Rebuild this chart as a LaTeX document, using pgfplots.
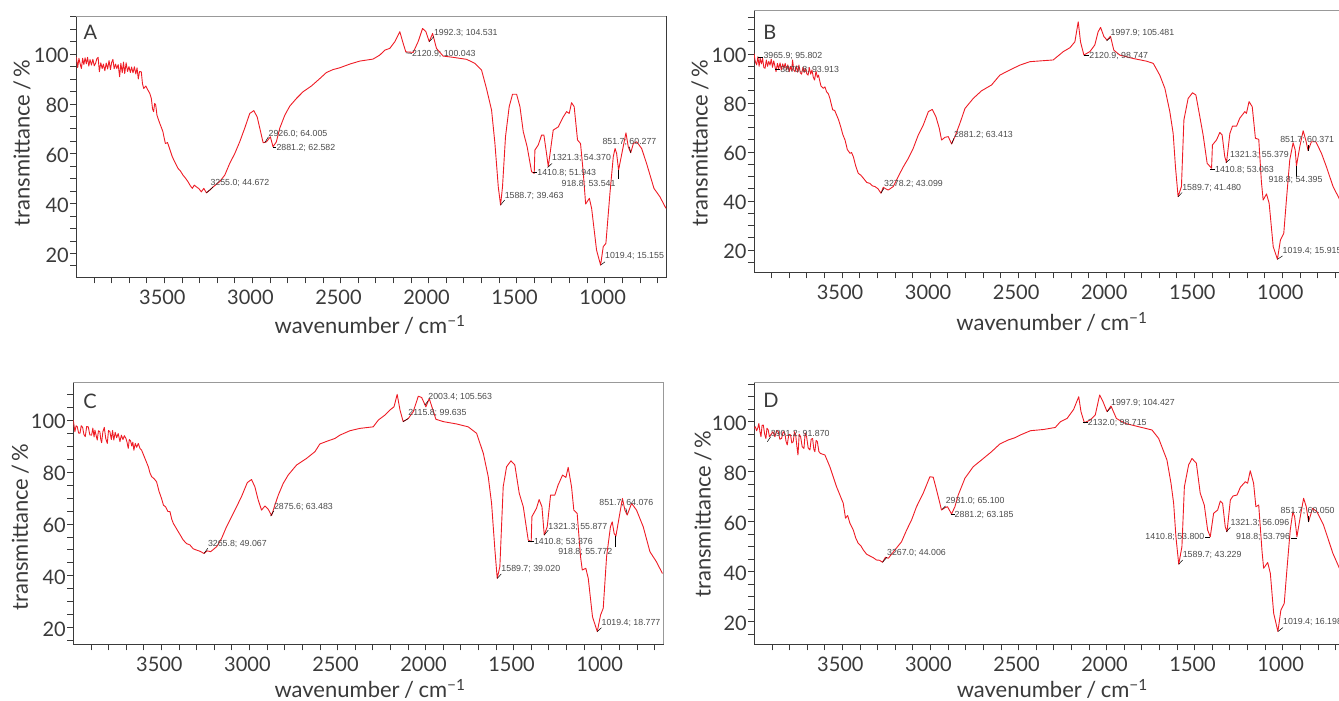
\documentclass[border=0pt]{standalone}
\usepackage{fontspec}
\setmainfont{Lato}
\newfontfamily\annofont{Liberation Sans}
\usepackage{pgfplots}
\usepackage{pgfplotstable}
\pgfplotsset{compat=1.18}
\definecolor{speccol}{HTML}{EE1C25}
\definecolor{framecol}{HTML}{3A3A3A}
\definecolor{txtcol}{HTML}{3A3A3A}
\definecolor{annocol}{HTML}{4A4A4A}

\pgfplotstableread{
x y
4000 98.9
3992 94.6
3985 98.3
3978 96.0
3971 94.2
3964 98.3
3957 95.8
3950 98.5
3943 96.1
3936 98.7
3929 95.2
3922 97.8
3914 95.6
3906 97.9
3898 95.3
3890 96.4
3883 98.2
3876 98.7
3869 92.9
3861 96.5
3853 94.2
3846 96.0
3838 93.3
3830 96.4
3822 94.0
3814 97.4
3806 93.8
3799 96.7
3792 97.9
3785 94.1
3777 96.0
3770 94.2
3762 95.8
3754 90.9
3747 96.3
3739 92.5
3732 96.8
3725 92.2
3717 96.5
3709 93.0
3701 95.0
3693 92.6
3686 94.8
3678 92.5
3670 94.9
3662 92.0
3655 94.5
3648 90.0
3641 93.0
3631 92.9
3624 88.0
3617 86.2
3605 87.2
3593 85.5
3583 84.3
3574 82.2
3567 78.0
3561 76.9
3555 80.2
3549 79.6
3542 75.5
3536 74.2
3525 72.0
3515 70.2
3508 68.8
3500 66.0
3494 64.1
3482 64.5
3470 62.0
3455 58.8
3438 56.3
3422 54.1
3408 53.0
3394 51.4
3380 50.2
3366 48.8
3353 47.2
3341 46.1
3330 47.4
3318 46.7
3304 46.0
3290 44.7
3276 46.1
3261 44.3
3242 45.4
3223 46.7
3186 48.8
3157 51.4
3129 56.1
3100 60.1
3072 64.8
3044 70.2
3015 76.2
2992 77.3
2973 74.8
2958 70.2
2939 64.4
2920 64.8
2898 66.8
2883 62.8
2864 64.8
2845 70.2
2816 75.5
2788 79.1
2750 82.2
2712 84.9
2665 87.2
2617 90.2
2580 92.6
2542 93.8
2504 94.5
2447 96.0
2390 97.2
2315 98.0
2277 99.6
2248 101.6
2220 102.3
2191 105.0
2163 109.0
2144 104.3
2129 100.9
2087 100.7
2059 105.0
2034 110.3
2015 109.0
1996 105.0
1977 108.3
1955 102.3
1917 99.2
1860 98.7
1784 97.9
1737 96.3
1699 93.6
1671 86.2
1642 77.5
1623 64.1
1604 46.7
1591 39.4
1580 46.7
1563 66.8
1542 78.9
1523 83.9
1500 83.9
1481 78.9
1462 68.8
1440 62.8
1415 52.8
1400 52.1
1396 61.5
1377 63.5
1358 67.5
1345 67.5
1330 60.1
1320 54.8
1301 64.8
1292 69.5
1263 70.8
1235 74.8
1216 76.9
1201 76.2
1188 80.5
1173 78.9
1154 65.5
1137 64.1
1121 52.1
1108 39.8
1087 42.1
1074 38.1
1046 21.3
1023 15.3
1008 22.7
993 24.0
970 44.1
951 58.8
941 62.1
932 60.1
921 53.4
904 59.5
879 68.4
866 62.8
852 60.4
837 64.1
818 64.8
790 62.1
762 56.1
720 46.1
686 42.7
652 38.1
}\dataA

\pgfplotstableread{
x y
4000 100.3
3993 97.0
3985 95.6
3978 98.9
3971 95.0
3965 98.4
3958 96.0
3951 98.2
3944 94.5
3937 94.2
3930 97.6
3923 95.0
3916 97.0
3909 95.5
3902 97.9
3895 94.6
3888 97.2
3881 95.0
3875 92.8
3867 96.2
3860 94.0
3852 96.4
3845 93.5
3837 96.0
3830 94.2
3823 96.2
3815 93.5
3808 95.6
3800 92.8
3793 95.0
3786 93.2
3781 97.6
3774 93.4
3767 92.8
3760 95.2
3752 92.6
3745 95.5
3737 92.4
3730 91.8
3722 94.6
3715 92.5
3708 94.2
3700 91.9
3693 91.4
3686 94.5
3678 91.8
3671 93.5
3663 90.5
3656 89.4
3648 93.0
3640 90.5
3634 91.4
3620 87.0
3606 86.0
3597 86.6
3588 84.6
3578 83.8
3569 81.9
3561 79.5
3553 77.2
3542 77.0
3531 75.1
3520 73.2
3508 70.4
3495 67.0
3483 64.9
3470 61.0
3455 59.5
3446 59.8
3436 58.1
3422 54.2
3408 51.3
3394 50.6
3379 49.3
3360 47.6
3342 47.2
3328 46.2
3313 45.9
3296 45.0
3279 43.2
3266 45.6
3252 45.0
3238 44.5
3209 45.9
3181 50.0
3152 54.0
3124 57.4
3096 61.5
3067 67.0
3039 71.0
3010 76.5
2988 77.4
2967 74.4
2948 69.7
2935 64.9
2916 66.0
2897 66.3
2878 63.3
2859 66.3
2831 71.7
2802 77.8
2755 81.9
2708 85.0
2651 87.4
2604 91.4
2556 93.2
2490 95.5
2433 96.9
2358 97.3
2301 97.6
2244 101.0
2206 102.6
2178 105.0
2159 113.2
2146 105.0
2127 99.6
2093 101.0
2065 103.7
2046 109.1
2032 110.9
2013 107.1
1995 105.7
1976 107.3
1957 101.6
1923 99.6
1847 98.2
1771 97.1
1733 96.2
1696 91.4
1667 86.0
1639 76.5
1620 67.6
1607 54.0
1592 41.8
1573 45.9
1559 73.1
1535 81.9
1510 84.2
1491 83.3
1472 75.8
1450 67.0
1427 55.4
1402 53.4
1397 62.9
1374 64.9
1355 68.0
1342 67.0
1327 58.1
1317 55.7
1298 67.6
1283 70.6
1260 70.6
1242 73.8
1213 76.5
1204 75.8
1189 80.6
1171 78.5
1153 65.6
1134 65.2
1119 47.9
1109 40.4
1090 42.9
1075 39.1
1052 21.4
1028 16.2
1011 24.1
992 26.8
977 40.4
958 56.8
939 63.8
927 60.8
920 54.3
901 62.2
882 68.7
867 64.9
854 60.6
835 64.2
810 64.2
778 59.5
750 54.0
712 45.9
680 41.4
650 36.5
}\dataB

\pgfplotstableread{
x y
4000 100.0
3995 97.5
3991 95.5
3984 97.8
3977 97.4
3970 95.0
3962 94.9
3955 97.8
3947 97.2
3940 94.5
3932 93.6
3924 97.5
3915 97.4
3906 94.3
3896 94.2
3889 96.9
3882 93.5
3877 96.1
3870 94.0
3864 92.3
3857 95.9
3849 95.5
3844 92.5
3839 91.3
3832 95.5
3824 97.2
3816 93.0
3807 91.0
3800 96.0
3792 95.5
3784 92.5
3777 96.0
3770 92.3
3762 95.3
3754 93.2
3745 94.8
3735 91.7
3727 94.2
3718 92.5
3710 94.0
3701 92.9
3695 91.5
3688 89.1
3682 92.5
3675 92.0
3668 90.0
3662 91.5
3656 88.4
3648 91.0
3640 89.5
3631 91.0
3621 89.0
3612 88.4
3593 85.2
3574 82.0
3564 79.5
3555 78.2
3541 77.4
3527 76.2
3513 72.5
3499 69.8
3488 67.2
3476 66.6
3463 64.8
3451 64.7
3441 61.8
3432 60.2
3404 57.0
3376 53.8
3357 52.4
3338 51.9
3319 50.4
3300 49.9
3279 49.4
3258 48.6
3240 49.6
3220 49.3
3186 51.2
3158 54.4
3130 58.9
3101 62.8
3073 66.6
3045 70.5
3012 75.9
2988 77.1
2969 74.3
2950 69.2
2931 65.3
2912 66.9
2893 65.6
2874 63.2
2855 67.3
2836 71.1
2808 75.6
2780 78.8
2732 82.7
2676 85.2
2628 87.8
2600 90.8
2553 92.0
2515 92.9
2486 94.2
2429 95.9
2372 96.8
2297 97.4
2268 100.0
2231 101.9
2202 103.9
2179 105.1
2161 109.9
2145 103.9
2127 99.4
2098 100.6
2070 103.2
2041 109.2
2022 108.7
1998 105.1
1979 108.3
1941 100.3
1899 99.4
1824 98.5
1758 97.4
1710 94.9
1672 87.2
1644 78.2
1625 67.9
1606 49.9
1593 39.0
1578 43.5
1559 74.3
1540 82.0
1515 84.3
1493 82.7
1468 71.8
1445 66.6
1417 53.8
1400 53.1
1396 62.8
1370 66.0
1355 69.4
1339 66.6
1326 55.7
1309 58.9
1290 71.1
1266 71.1
1247 75.0
1222 78.8
1203 77.9
1190 81.8
1171 74.3
1158 65.3
1139 64.0
1120 47.4
1110 42.2
1090 42.9
1076 39.0
1052 24.2
1025 18.5
1006 24.9
991 27.5
972 47.4
950 58.9
940 60.8
929 56.3
919 55.3
900 62.8
882 69.8
868 65.3
855 63.4
830 67.9
802 65.3
764 58.9
726 49.3
689 45.4
655 40.9
}\dataC

\pgfplotstableread{
x y
4000 97.3
3994 98.0
3987 96.4
3980 97.5
3974 99.3
3968 96.0
3962 94.0
3956 98.5
3949 98.7
3941 95.0
3934 93.3
3928 97.4
3921 96.7
3914 94.0
3907 94.7
3895 96.0
3883 94.0
3873 96.5
3864 96.0
3855 93.0
3845 93.3
3836 96.0
3826 95.3
3820 92.2
3813 90.7
3804 95.0
3794 94.7
3787 91.5
3779 92.0
3772 96.0
3765 94.7
3758 90.0
3752 86.7
3745 95.0
3737 94.0
3728 90.0
3718 89.3
3711 95.5
3703 94.0
3694 89.5
3684 88.7
3677 93.0
3669 93.3
3662 89.0
3656 88.0
3649 92.5
3642 92.0
3633 88.0
3624 87.3
3599 86.7
3571 82.0
3552 78.0
3533 74.0
3495 67.4
3482 61.4
3470 62.5
3457 59.4
3438 56.7
3424 53.5
3410 51.4
3395 50.4
3381 48.7
3362 47.0
3343 46.3
3324 45.6
3306 44.7
3289 44.6
3272 43.8
3255 45.8
3239 45.4
3202 48.7
3164 52.0
3135 56.7
3107 60.7
3079 66.0
3041 71.4
3003 78.0
2984 77.8
2965 72.7
2937 64.7
2918 65.6
2903 66.0
2880 63.1
2861 66.0
2842 70.7
2804 77.4
2757 82.0
2710 84.7
2653 88.0
2606 91.1
2558 92.7
2520 93.6
2489 94.7
2432 96.4
2357 96.9
2291 97.7
2262 100.0
2224 101.3
2187 104.9
2158 110.0
2145 104.0
2126 99.6
2092 100.7
2064 102.7
2039 110.7
2020 108.0
1997 104.0
1975 106.3
1944 101.3
1893 99.3
1818 98.0
1742 96.7
1704 93.3
1657 84.7
1634 75.4
1619 67.4
1606 54.0
1590 43.0
1572 50.0
1558 74.0
1534 82.7
1515 85.3
1490 83.4
1468 71.4
1445 66.7
1426 56.7
1411 54.0
1392 63.4
1369 64.7
1354 68.3
1341 67.4
1326 58.0
1316 56.0
1297 68.7
1282 70.3
1259 70.7
1240 73.8
1212 76.0
1199 75.4
1184 80.4
1165 75.4
1152 66.0
1136 66.7
1117 48.1
1108 41.4
1085 43.7
1070 39.4
1051 23.4
1027 16.1
1010 24.7
991 27.4
976 40.7
957 56.7
942 64.0
932 62.0
919 54.0
900 62.0
881 69.4
866 66.0
853 60.0
830 65.4
805 64.0
768 58.7
715 47.4
682 42.1
650 37.0
}\dataD

\newcommand\labfont{\fontsize{22}{22}\selectfont}
\pgfplotsset{
  spec/.style={
    scale only axis, width=590pt,
    x dir=reverse, xmin=650, xmax=4000,
    xtick={1000,1500,2000,2500,3000,3500},
    minor xtick={700,800,...,3900},
    ytick={20,40,60,80,100},
    minor ytick={15,20,...,115},
    tick pos=left,
    tick align=outside,
    major tick length=6pt, minor tick length=6pt,
    every tick/.append style={framecol,line width=0.7pt},
    every minor tick/.append style={framecol,line width=0.7pt},
    axis line style={framecol,line width=0.9pt},
    clip mode=individual,
    /pgf/number format/1000 sep={},
    /pgf/number format/assume math mode=true,
    tick label style={font=\fontsize{20}{20}\selectfont,text=txtcol},
    xticklabel style={xshift=-2pt,yshift=-3pt},
    yticklabel style={yshift=-1.5pt,xshift=2pt},
    xlabel={wavenumber\hspace{4.5pt}/\hspace{4.5pt}cm\textsuperscript{−1}},
    ylabel={transmittance\,/\,\%},
  },
  trace/.style={speccol,line width=0.9pt,line join=round,no markers},
}
\newcommand\anno[7]{%
  \draw[black,line width=0.5pt] (axis cs:#1,#2) -- (axis cs:#3,#4);
  \node[anchor=west,inner sep=0pt,text=annocol,font=\annofont\fontsize{8.8}{9}\selectfont] at (axis cs:#5,#6) {#7};
}
\newcommand\topline{\draw[gray!80,line width=0.9pt] (rel axis cs:0,1) -- (rel axis cs:1,1);}

\begin{document}
\begin{tikzpicture}[x=1pt,y=1pt]
\path[use as bounding box,clip] (0,0) rectangle (1339,701);

% A
\begin{axis}[spec, at={(76.3pt,423.7pt)}, anchor=south west, height=261.3pt,
  ymin=10.4, ymax=115.3,
  every axis x label/.style={at={(axis description cs:0.498,-0.1825)},anchor=center,font=\labfont,text=txtcol},
  every axis y label/.style={at={(axis description cs:-0.092,0.514)},anchor=center,rotate=90,font=\labfont,text=txtcol}]
\addplot[trace] table {\dataA};
\node[font=\fontsize{20}{20}\selectfont,text=txtcol] at (axis cs:3920,108.6) {A};
\anno{3261}{44.3}{3223}{46.7}{3239}{48.2}{3255.0; 44.672}
\anno{2930}{64.4}{2909}{66.8}{2909}{67.9}{2926.0; 64.005}
\anno{2883}{62.8}{2864}{62.8}{2864}{62.5}{2881.2; 62.582}
\anno{1996}{105}{1970}{107}{1970}{108.4}{1992.3; 104.531}
\anno{2129}{100.5}{2095}{100.3}{2095}{100}{2120.9; 100.043}
\anno{1591}{39.4}{1568}{41.4}{1568}{43.1}{1588.7; 39.463}
\anno{1409}{52.4}{1383}{52.4}{1383}{52.1}{1410.8; 51.943}
\anno{1324}{54.5}{1299}{56.1}{1299}{58.1}{1321.3; 54.370}
\anno{922}{53.4}{922}{49.7}{1245}{48.0}{918.8; 53.541}
\anno{852}{60.4}{860}{62.8}{1013}{64.8}{851.7; 60.277}
\anno{1023}{15.3}{998}{16.6}{998}{18.9}{1019.4; 15.155}
\topline
\end{axis}

% B
\begin{axis}[spec, at={(754pt,428.7pt)}, anchor=south west, height=262.3pt,
  ymin=10.9, ymax=118,
  every axis x label/.style={at={(axis description cs:0.505,-0.189)},anchor=center,font=\labfont,text=txtcol},
  every axis y label/.style={at={(axis description cs:-0.0915,0.493)},anchor=center,rotate=90,font=\labfont,text=txtcol}]
\addplot[trace] table {\dataB};
\node[font=\fontsize{20}{20}\selectfont,text=txtcol] at (axis cs:3910,109) {B};
\anno{3975}{98.9}{3947}{98.9}{3947}{99.3}{3965.9; 95.802}
\anno{3881}{93.7}{3852}{93.7}{3852}{93.7}{3870.8; 93.913}
\anno{3279}{43.2}{3262}{45.2}{3262}{46.8}{3278.2; 43.099}
\anno{2878}{63.3}{2865}{65.6}{2865}{67}{2881.2; 63.413}
\anno{1998}{105.4}{1976}{106.8}{1976}{108.8}{1997.9; 105.481}
\anno{2127}{99.6}{2097}{99.6}{2097}{99.3}{2120.9; 98.747}
\anno{1592}{41.8}{1569}{43.5}{1569}{45.2}{1589.7; 41.480}
\anno{1412}{53.1}{1383}{53.1}{1383}{52.8}{1410.8; 53.063}
\anno{1321}{55.7}{1298}{57}{1298}{58.9}{1321.3; 55.379}
\anno{920}{54.3}{920}{50}{1079}{48.6}{918.8; 54.395}
\anno{854}{60.6}{854}{62.9}{1013}{64.8}{851.7; 60.371}
\anno{1028}{16.2}{999}{17.6}{999}{19.8}{1019.4; 15.915}
\topline
\end{axis}

% C
\begin{axis}[spec, at={(73.3pt,56.7pt)}, anchor=south west, height=261.6pt,
  ymin=13.6, ymax=114.4,
  every axis x label/.style={at={(axis description cs:0.503,-0.171)},anchor=center,font=\labfont,text=txtcol},
  every axis y label/.style={at={(axis description cs:-0.09,0.448)},anchor=center,rotate=90,font=\labfont,text=txtcol}]
\addplot[trace] table {\dataC};
\node[font=\fontsize{20}{20}\selectfont,text=txtcol] at (axis cs:3905,107.4) {C};
\anno{3258}{48.6}{3236}{50.6}{3236}{52.2}{3265.8; 49.067}
\anno{2880}{63}{2861}{65}{2861}{66.6}{2875.6; 63.483}
\anno{2004}{105.8}{1985}{107.4}{1985}{108.9}{2003.4; 105.563}
\anno{2127}{99.4}{2098}{100.6}{2098}{102.8}{2115.8; 99.635}
\anno{1593}{39}{1570}{40.7}{1570}{42.6}{1589.7; 39.020}
\anno{1417}{53.4}{1385}{53.4}{1385}{53.2}{1410.8; 53.376}
\anno{1326}{55.7}{1303}{57.6}{1303}{58.9}{1321.3; 55.877}
\anno{925}{55.3}{925}{51.2}{1247}{49.2}{918.8; 55.772}
\anno{855}{64}{863}{66}{1014}{68.2}{851.7; 64.076}
\anno{1025}{18.5}{1001}{20}{1001}{21.9}{1019.4; 18.777}
\draw[gray!80,line width=0.9pt] (rel axis cs:1,0) -- (rel axis cs:1,1) -- (rel axis cs:0,1);
\end{axis}

% D
\begin{axis}[spec, at={(754.3pt,56.7pt)}, anchor=south west, height=261.6pt,
  ymin=11, ymax=115.6,
  every axis x label/.style={at={(axis description cs:0.505,-0.1705)},anchor=center,font=\labfont,text=txtcol},
  every axis y label/.style={at={(axis description cs:-0.087,0.498)},anchor=center,rotate=90,font=\labfont,text=txtcol}]
\addplot[trace] table {\dataD};
\node[font=\fontsize{20}{20}\selectfont,text=txtcol] at (axis cs:3905,108.6) {D};
\anno{3926}{92}{3907}{94}{3907}{95}{3901.2; 91.870}
\anno{3272}{43.8}{3247}{45.8}{3247}{47.7}{3267.0; 44.006}
\anno{2933}{65}{2914}{66.3}{2914}{68.4}{2931.0; 65.100}
\anno{2885}{63.1}{2863}{63.1}{2863}{62.8}{2881.2; 63.185}
\anno{1997}{104}{1975}{105.7}{1975}{107.6}{1997.9; 104.427}
\anno{2134}{99.9}{2107}{99.9}{2107}{99.6}{2132.0; 98.715}
\anno{1590}{43}{1568}{44.7}{1568}{46.7}{1589.7; 43.229}
\anno{1439}{53.9}{1411}{53.9}{1780}{53.9}{1410.8; 53.800}
\anno{1320}{56}{1297}{57.8}{1297}{59.5}{1321.3; 56.096}
\anno{951}{53.6}{919}{53.6}{1265}{53.9}{918.8; 53.796}
\anno{853}{60}{853}{62.3}{1012}{64.2}{851.7; 60.050}
\anno{1027}{16.1}{998}{17.7}{998}{20}{1019.4; 16.198}
\topline
\end{axis}
\end{tikzpicture}
\end{document}
